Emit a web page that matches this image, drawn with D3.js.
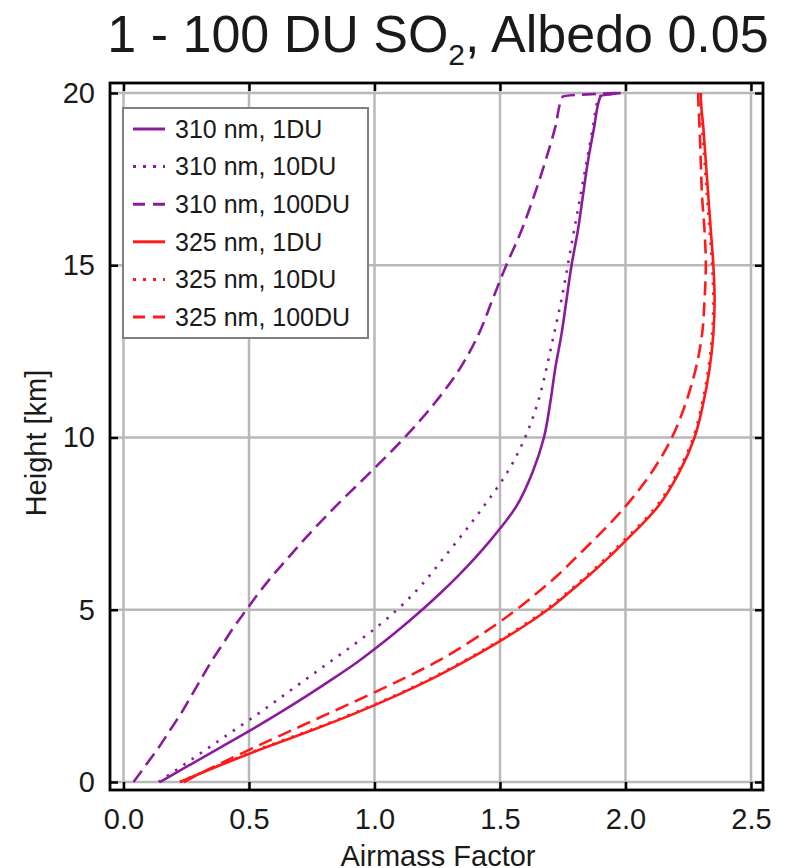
<!DOCTYPE html>
<html>
<head>
<meta charset="utf-8">
<script src="https://cdn.jsdelivr.net/npm/d3@7"></script>
<style>
  body { margin: 0; background: #fff; }
  text { font-family: "Liberation Sans", Arial, Helvetica, sans-serif; fill: #1a1a1a; }
</style>
</head>
<body>
<svg id="chart" width="788" height="868"></svg>
<script>
// heights in km, shared by every profile
var heights = [0, 0.5, 1, 1.5, 2, 2.5, 3, 3.5, 4, 4.5, 5, 5.5, 6, 6.5, 7, 8, 9, 10, 11, 12, 13, 14, 15, 16, 17, 18, 19, 19.9, 20];

// airmass factors
var amf310_1 = [0.145, 0.265, 0.385, 0.505, 0.62, 0.73, 0.835, 0.935, 1.025, 1.11, 1.19, 1.265, 1.335, 1.40, 1.46, 1.565, 1.63, 1.675, 1.70, 1.72, 1.745, 1.765, 1.785, 1.81, 1.83, 1.85, 1.875, 1.90, 1.98];
var amf310_10 = [0.14, 0.24, 0.34, 0.44, 0.54, 0.635, 0.73, 0.825, 0.92, 1.01, 1.09, 1.16, 1.22, 1.275, 1.33, 1.435, 1.53, 1.60, 1.65, 1.685, 1.715, 1.745, 1.77, 1.795, 1.82, 1.845, 1.87, 1.895, 1.98];
var amf310_100 = [0.04, 0.09, 0.14, 0.185, 0.23, 0.27, 0.31, 0.35, 0.395, 0.44, 0.49, 0.54, 0.595, 0.655, 0.715, 0.845, 0.985, 1.12, 1.24, 1.34, 1.415, 1.47, 1.525, 1.585, 1.635, 1.68, 1.72, 1.75, 1.97];
var amf325_1 = [0.225, 0.39, 0.565, 0.75, 0.925, 1.085, 1.23, 1.36, 1.48, 1.59, 1.69, 1.775, 1.855, 1.93, 2.0, 2.13, 2.215, 2.275, 2.31, 2.335, 2.35, 2.355, 2.35, 2.34, 2.33, 2.32, 2.31, 2.30, 2.30];
var amf325_10 = [0.225, 0.385, 0.558, 0.742, 0.917, 1.077, 1.222, 1.352, 1.472, 1.582, 1.682, 1.767, 1.847, 1.922, 1.992, 2.122, 2.208, 2.27, 2.305, 2.33, 2.345, 2.35, 2.345, 2.335, 2.325, 2.315, 2.305, 2.30, 2.30];
var amf325_100 = [0.24, 0.375, 0.52, 0.67, 0.82, 0.97, 1.115, 1.25, 1.365, 1.47, 1.565, 1.65, 1.73, 1.80, 1.87, 2.0, 2.105, 2.185, 2.24, 2.28, 2.305, 2.315, 2.32, 2.315, 2.305, 2.30, 2.295, 2.29, 2.29];

var seriesNames = ["310 nm, 1DU", "310 nm, 10DU", "310 nm, 100DU", "325 nm, 1DU", "325 nm, 10DU", "325 nm, 100DU"];
var seriesValues = [amf310_1, amf310_10, amf310_100, amf325_1, amf325_10, amf325_100];
var xTicks = [0, 0.5, 1.0, 1.5, 2.0, 2.5];
var yTicks = [0, 5, 10, 15, 20];

var purple = "#8a1c9c", red = "#ff1a1a";
var colors = [purple, purple, purple, red, red, red];
var dashes = [null, "2.5,7.5", "14,7", null, "2.5,7.5", "14,7"];
var legendDashes = [null, "3,7", "12,8", null, "3,7", "12,8"];

var svg = d3.select("#chart");
var plotL = 110, plotR = 763, plotT = 83, plotB = 790;

var x = d3.scaleLinear().domain([-0.0538, 2.5478]).range([plotL, plotR]);
var y = d3.scaleLinear().domain([-0.232, 20.29]).range([plotB, plotT]);

// title with subscript
var title = svg.append("text")
  .attr("x", 438).attr("y", 52)
  .attr("text-anchor", "middle")
  .style("font-size", "52px");
title.append("tspan").text("1 - 100 DU SO");
title.append("tspan").attr("dy", 13).style("font-size", "30px").text("2");
title.append("tspan").attr("dy", -13).text(", Albedo 0.05");

// grid
var grid = svg.append("g").attr("stroke", "#b9b9b9").attr("stroke-width", 2.5);
grid.selectAll(".gx").data(xTicks).enter().append("line")
  .attr("x1", function(d) { return x(d); }).attr("x2", function(d) { return x(d); })
  .attr("y1", plotT).attr("y2", plotB);
grid.selectAll(".gy").data(yTicks).enter().append("line")
  .attr("x1", plotL).attr("x2", plotR)
  .attr("y1", function(d) { return y(d); }).attr("y2", function(d) { return y(d); });

// curves
var line = d3.line()
  .x(function(d) { return x(d[0]); })
  .y(function(d) { return y(d[1]); })
  .curve(d3.curveMonotoneY);

svg.append("g").selectAll("path").data(seriesValues).enter().append("path")
  .attr("d", function(vals) { return line(vals.map(function(v, i) { return [v, heights[i]]; })); })
  .attr("fill", "none")
  .attr("stroke", function(d, i) { return colors[i]; })
  .attr("stroke-width", 2.6)
  .attr("stroke-dasharray", function(d, i) { return dashes[i]; });

// axes: inward ticks on all sides
function styleAxis(g) {
  g.select(".domain").remove();
  g.selectAll(".tick line").attr("stroke", "#000").attr("stroke-width", 2.5);
  g.selectAll(".tick text").style("font-size", "29px").attr("fill", "#1a1a1a");
}
svg.append("g").attr("transform", "translate(0," + plotB + ")")
  .call(d3.axisBottom(x).tickValues(xTicks).tickFormat(d3.format(".1f")).tickSize(-8).tickPadding(18))
  .call(styleAxis);
svg.append("g").attr("transform", "translate(0," + plotT + ")")
  .call(d3.axisTop(x).tickValues(xTicks).tickFormat("").tickSize(-8))
  .call(styleAxis);
svg.append("g").attr("transform", "translate(" + plotL + ",0)")
  .call(d3.axisLeft(y).tickValues(yTicks).tickSize(-8).tickPadding(15))
  .call(styleAxis);
svg.append("g").attr("transform", "translate(" + plotR + ",0)")
  .call(d3.axisRight(y).tickValues(yTicks).tickFormat("").tickSize(-8))
  .call(styleAxis);

// frame
svg.append("rect")
  .attr("x", plotL).attr("y", plotT)
  .attr("width", plotR - plotL).attr("height", plotB - plotT)
  .attr("fill", "none").attr("stroke", "#000").attr("stroke-width", 2.8);

// axis titles
svg.append("text")
  .attr("x", 438).attr("y", 866)
  .attr("text-anchor", "middle")
  .style("font-size", "29px")
  .text("Airmass Factor");
svg.append("text")
  .attr("transform", "translate(46,443) rotate(-90)")
  .attr("text-anchor", "middle")
  .style("font-size", "29px")
  .text("Height [km]");

// legend
var legend = svg.append("g");
legend.append("rect")
  .attr("x", 123).attr("y", 108).attr("width", 245).attr("height", 230)
  .attr("fill", "#fff").attr("stroke", "#808080").attr("stroke-width", 2);
var rows = legend.selectAll(".row").data(seriesNames).enter().append("g")
  .attr("transform", function(d, i) { return "translate(0," + (129 + i * 37.6) + ")"; });
rows.append("line")
  .attr("x1", 133).attr("x2", 165)
  .attr("stroke", function(d, i) { return colors[i]; })
  .attr("stroke-width", 3)
  .attr("stroke-dasharray", function(d, i) { return legendDashes[i]; });
rows.append("text")
  .attr("x", 175).attr("dy", "0.35em")
  .style("font-size", "25px")
  .text(function(d) { return d; });
</script>
</body>
</html>
